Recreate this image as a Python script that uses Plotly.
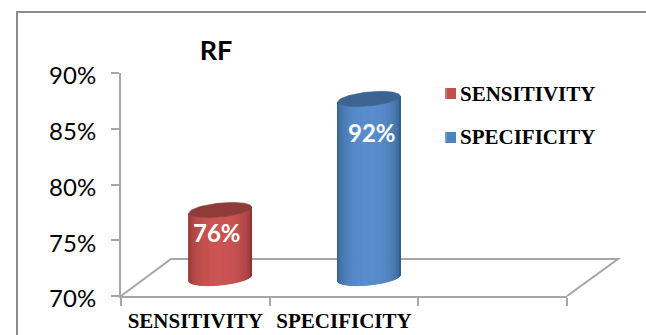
import numpy as np
import plotly.graph_objects as go

W, H = 646, 335
L, R, T, B = 121, 567, 73, 296   # plot area in page pixels

categories = ["SENSITIVITY", "SPECIFICITY", " "]
series_names = ["SENSITIVITY", "SPECIFICITY"]
values = [76, 92]
tick_vals = [70, 75, 80, 85, 90]
tick_text = ["70%", "75%", "80%", "85%", "90%"]
title = "RF"

edge_colors = [(134, 50, 49), (50, 88, 130)]
mid_colors = [(203, 84, 83), (88, 140, 205)]
cap_colors = ["#8E3B3A", "#3B6493"]
swatch_colors = ["#C0504D", "#4F81BD"]
label_shift = [-22, -34]          # label offset below the cylinder top, px
swatch_rows = [93.5, 137.5]       # page y of the legend swatch centres

GREY = "#A6A6A6"
PX_PER_PCT = 6.94                 # scale of the cylinder layer
TOP_REF_PX = 210                  # page y of the first value's cap centre
BASE_PX = 278
y2_at = lambda p: values[0] + (TOP_REF_PX - p) / PX_PER_PCT
base_val = y2_at(BASE_PX)
x_offset = 0.168
half_w = 31.2 / ((R - L) / 3)
dy_per_px = 1 / PX_PER_PCT
B_EL, TILT = 7.0, 3.0

fig = go.Figure()

# legend entries (their swatches are drawn as shapes, closer to the text)
for name in series_names:
    fig.add_trace(go.Bar(x=categories, y=[None] * 3, name=name, marker_color="rgba(0,0,0,0)",
                         legendgroup=name, xaxis="x", yaxis="y"))

def ell(xc, yc, t):
    return (xc + half_w * np.cos(t),
            yc + (TILT * np.cos(t) + B_EL * np.sin(t)) * dy_per_px)

N = 62
for i, v in enumerate(values):
    xc = i + x_offset
    edges = np.linspace(np.pi, 0, N + 1)  # left -> right across lower half
    for k in range(N):
        ts = np.linspace(edges[k], edges[k + 1], 3)
        xs_b, ys_b = ell(xc, base_val, -ts)
        xs_t, ys_t = ell(xc, v, -ts)
        xp = np.r_[xs_b, xs_t[::-1], xs_b[0]]
        yp = np.r_[ys_b, ys_t[::-1], ys_b[0]]
        # shade by horizontal position across the cylinder, not by angle
        f = np.sin(np.arccos(np.cos((edges[k] + edges[k + 1]) / 2))) ** 0.8
        c = [round(e + (m - e) * f) for e, m in zip(edge_colors[i], mid_colors[i])]
        rgb = f"rgb({c[0]},{c[1]},{c[2]})"
        fig.add_trace(go.Scatter(x=xp, y=yp, mode="lines", fill="toself", fillcolor=rgb,
                                 line=dict(color=rgb, width=1), showlegend=False,
                                 hoverinfo="skip", xaxis="x2", yaxis="y2"))
    t = np.linspace(0, 2 * np.pi, 80)
    xs, ys = ell(xc, v, t)
    fig.add_trace(go.Scatter(x=xs, y=ys, mode="lines", fill="toself", fillcolor=cap_colors[i],
                             line=dict(color=cap_colors[i], width=0.6), showlegend=False,
                             hoverinfo="skip", xaxis="x2", yaxis="y2"))
    fig.add_annotation(x=xc - 0.02 if i == 0 else xc + 0.02, y=v, xref="x2", yref="y2",
                       text=f"<b>{v}%</b>", showarrow=False, yshift=label_shift[i],
                       font=dict(family="Lato", size=24, color="white"))

px = lambda p: (p - L) / (R - L)
py = lambda p: (B - p) / (B - T)

shapes = [
    dict(type="path", xref="paper", yref="paper", layer="below",
         path=f"M{px(17)},{py(336)} L{px(17)},{py(12)} L{px(647)},{py(12)}",
         line=dict(color="#8C8C8C", width=2)),
    dict(type="path", xref="paper", yref="paper", layer="below",
         path=f"M{px(L)},{py(B)} L{px(171)},{py(259)} L{px(618)},{py(259)} L{px(R)},{py(B)}",
         line=dict(color=GREY, width=2)),
]
for col, row in zip(swatch_colors, swatch_rows):
    shapes.append(dict(type="rect", xref="paper", yref="paper", layer="above",
                       x0=px(445), x1=px(456), y0=py(row + 5.5), y1=py(row - 5.5),
                       fillcolor=col, line=dict(width=0)))

serif = dict(family="Liberation Serif", size=21, color="black", weight="bold")

fig.update_layout(
    width=W, height=H, autosize=False,
    margin=dict(l=L, r=W - R, t=T, b=H - B, autoexpand=False),
    paper_bgcolor="white", plot_bgcolor="rgba(0,0,0,0)",
    shapes=shapes, barmode="overlay",
    title=dict(text=f"<b>{title}</b>", x=216 / W, y=1 - 51 / H, xanchor="center", yanchor="middle",
               xref="container", yref="container", font=dict(family="Lato", size=27, color="black")),
    legend=dict(x=px(420), y=py(73), xanchor="left", yanchor="top", xref="paper", yref="paper",
                bgcolor="rgba(0,0,0,0)", tracegroupgap=12, traceorder="grouped",
                itemclick=False, itemdoubleclick=False, font=serif),
    xaxis=dict(type="category", categoryorder="array", categoryarray=categories,
               range=[-0.5, 2.5], tickson="boundaries", ticks="outside", ticklen=8, tickwidth=2,
               tickcolor=GREY, showline=True, linecolor=GREY, linewidth=2, showgrid=False,
               ticklabelstandoff=5, tickfont=serif, fixedrange=True, zeroline=False),
    yaxis=dict(range=[70, 90], tickvals=tick_vals, ticktext=tick_text, ticks="outside", ticklen=8,
               tickwidth=2, tickcolor=GREY, showline=True, linecolor=GREY, linewidth=2,
               showgrid=False, zeroline=False, ticklabelstandoff=10, ticklabelshift=3,
               tickfont=dict(family="Lato", size=24, color="black"), fixedrange=True),
    xaxis2=dict(overlaying="x", range=[-0.5, 2.5], visible=False, fixedrange=True),
    yaxis2=dict(overlaying="y", range=[y2_at(B), y2_at(T)], visible=False, fixedrange=True),
)

fig.write_html("out.html", config={"displayModeBar": False},
               post_script="document.body.style.margin='0';document.body.style.overflow='hidden';")
